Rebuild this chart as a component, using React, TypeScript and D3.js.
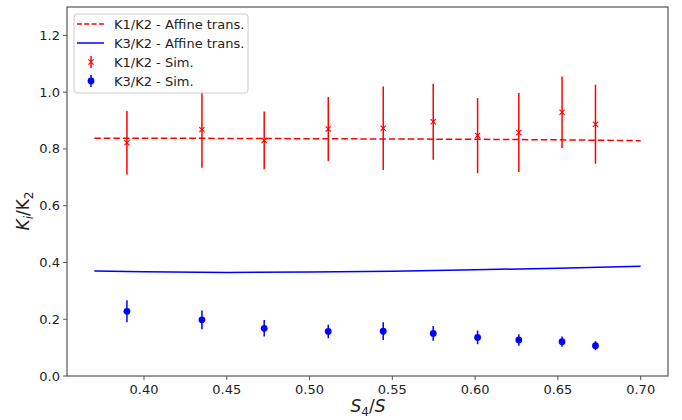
import React from "react";
import * as d3 from "d3";

const simX = [0.3897, 0.435, 0.4726, 0.5113, 0.5445, 0.5747, 0.6015, 0.6264, 0.6525, 0.6727];
const k1Sim = [0.822, 0.868, 0.83, 0.87, 0.873, 0.896, 0.847, 0.858, 0.929, 0.887];
const k1Err = [0.112, 0.134, 0.102, 0.113, 0.147, 0.134, 0.132, 0.139, 0.126, 0.139];
const k3Sim = [0.228, 0.198, 0.168, 0.157, 0.158, 0.15, 0.136, 0.127, 0.121, 0.107];
const k3Err = [0.039, 0.033, 0.029, 0.024, 0.031, 0.026, 0.024, 0.02, 0.018, 0.016];

const affX = [0.37, 0.4, 0.45, 0.5, 0.55, 0.6, 0.65, 0.7];
const k1Aff = [0.838, 0.838, 0.837, 0.836, 0.835, 0.834, 0.832, 0.829];
const k3Aff = [0.37, 0.367, 0.365, 0.366, 0.369, 0.374, 0.38, 0.387];

const xTicks = [0.4, 0.45, 0.5, 0.55, 0.6, 0.65, 0.7];
const yTicks = [0, 0.2, 0.4, 0.6, 0.8, 1.0, 1.2];

const W = 682, H = 420;
const L = 67, R = 668, T = 7, B = 376;
const FONT = "DejaVu Sans";

export default function App() {
  const x = d3.scaleLinear().domain([0.3535, 0.7165]).range([L, R]);
  const y = d3.scaleLinear().domain([0, 1.3]).range([B, T]);
  const line = d3.line<[number, number]>().x(d => x(d[0])).y(d => y(d[1]));
  const k1Line = line(affX.map((v, i) => [v, k1Aff[i]]) as [number, number][]) || "";
  const k3Line = line(affX.map((v, i) => [v, k3Aff[i]]) as [number, number][]) || "";
  const axisColor = "#555";

  const xMark = (cx: number, cy: number, s: number, key: string) => (
    <g key={key} stroke="red" strokeWidth={1.1}>
      <line x1={cx - s} y1={cy - s} x2={cx + s} y2={cy + s} />
      <line x1={cx - s} y1={cy + s} x2={cx + s} y2={cy - s} />
    </g>
  );

  const legendRows = [
    { label: "K1/K2 - Affine trans.", kind: "dash" },
    { label: "K3/K2 - Affine trans.", kind: "solid" },
    { label: "K1/K2 - Sim.", kind: "xerr" },
    { label: "K3/K2 - Sim.", kind: "oerr" },
  ];
  const legY = [24, 43, 62, 81];

  return (
    <svg width={W} height={H} style={{ position: "absolute", left: 0, top: 0 }} fontFamily={FONT}>
      <rect x={0} y={0} width={W} height={H} fill="white" />
      {/* lines */}
      <path d={k1Line} fill="none" stroke="red" strokeWidth={1.5} strokeDasharray="6.5,3" />
      <path d={k3Line} fill="none" stroke="blue" strokeWidth={1.5} />
      {/* K1 errorbars */}
      {simX.map((v, i) => (
        <g key={"k1" + i}>
          <line x1={x(v)} x2={x(v)} y1={y(k1Sim[i] - k1Err[i])} y2={y(k1Sim[i] + k1Err[i])} stroke="red" strokeWidth={1.5} />
          {xMark(x(v), y(k1Sim[i]), 2.6, "m" + i)}
        </g>
      ))}
      {/* K3 errorbars */}
      {simX.map((v, i) => (
        <g key={"k3" + i}>
          <line x1={x(v)} x2={x(v)} y1={y(k3Sim[i] - k3Err[i])} y2={y(k3Sim[i] + k3Err[i])} stroke="blue" strokeWidth={1.5} />
          <circle cx={x(v)} cy={y(k3Sim[i])} r={3.4} fill="blue" />
        </g>
      ))}
      {/* frame */}
      <rect x={L} y={T} width={R - L} height={B - T} fill="none" stroke={axisColor} strokeWidth={1.2} />
      {/* x ticks */}
      {xTicks.map(t => (
        <g key={"xt" + t}>
          <line x1={x(t)} x2={x(t)} y1={B} y2={B + 4} stroke={axisColor} strokeWidth={1} />
          <text x={x(t)} y={B + 18} fontSize={13} textAnchor="middle" fill="#222">{t.toFixed(2)}</text>
        </g>
      ))}
      {/* y ticks */}
      {yTicks.map(t => (
        <g key={"yt" + t}>
          <line x1={L - 4} x2={L} y1={y(t)} y2={y(t)} stroke={axisColor} strokeWidth={1} />
          <text x={L - 7} y={y(t) + 4.5} fontSize={13} textAnchor="end" fill="#222">{t.toFixed(1)}</text>
        </g>
      ))}
      {/* axis labels */}
      <text x={368} y={412} fontSize={17} textAnchor="middle" fill="#222">
        <tspan fontStyle="italic">S</tspan>
        <tspan fontSize={12} dy={4}>4</tspan>
        <tspan dy={-4}>/</tspan>
        <tspan fontStyle="italic">S</tspan>
      </text>
      <text transform={`translate(29,${211}) rotate(-90)`} fontSize={17} textAnchor="middle" fill="#222">
        <tspan fontStyle="italic">K</tspan>
        <tspan fontSize={12} fontStyle="italic" dy={4}>i</tspan>
        <tspan dy={-4}>/</tspan>
        <tspan>K</tspan>
        <tspan fontSize={12} dy={4}>2</tspan>
      </text>
      {/* legend */}
      <g>
        <rect x={74} y={14} width={174} height={79} rx={3} fill="white" fillOpacity={0.8} stroke="#ccc" strokeWidth={1} />
        {legendRows.map((r, i) => {
          const cy = legY[i];
          let handle: React.ReactNode = null;
          if (r.kind === "dash") handle = <line x1={77} x2={104} y1={cy} y2={cy} stroke="red" strokeWidth={1.5} strokeDasharray="5,2.3" />;
          else if (r.kind === "solid") handle = <line x1={77} x2={104} y1={cy} y2={cy} stroke="blue" strokeWidth={1.5} />;
          else if (r.kind === "xerr") handle = (
            <g>
              <line x1={91} x2={91} y1={cy - 6} y2={cy + 6} stroke="red" strokeWidth={1.5} />
              {xMark(91, cy, 2.6, "lm")}
            </g>
          );
          else handle = (
            <g>
              <line x1={91} x2={91} y1={cy - 6} y2={cy + 6} stroke="blue" strokeWidth={1.5} />
              <circle cx={91} cy={cy} r={3.4} fill="blue" />
            </g>
          );
          return (
            <g key={"lg" + i}>
              {handle}
              <text x={114} y={cy + 4.5} fontSize={13} fill="#222">{r.label}</text>
            </g>
          );
        })}
      </g>
    </svg>
  );
}
